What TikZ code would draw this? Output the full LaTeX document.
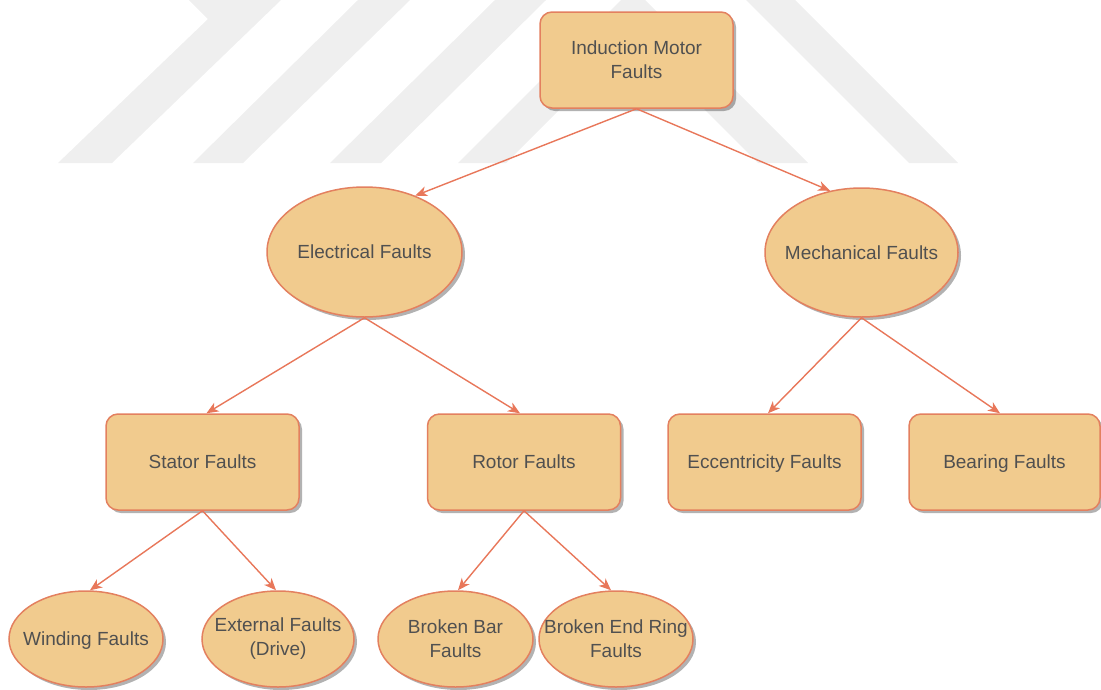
\documentclass[tikz,border=0pt]{standalone}
\usepackage{fontspec}
\setmainfont{Liberation Sans}
\usetikzlibrary{shapes.geometric,shadows,arrows.meta}
\definecolor{boxfill}{HTML}{F1CB8E}
\definecolor{boxline}{HTML}{E3805F}
\definecolor{arrowc}{HTML}{E8775A}
\definecolor{txtc}{HTML}{505050}
\definecolor{wmark}{HTML}{EFEFEF}
\begin{document}
\begin{tikzpicture}[x=1pt,y=-1pt,
  every node/.style={font=\fontsize{19}{24}\selectfont, text=txtc},
  shad/.style={drop shadow={shadow xshift=3pt,shadow yshift=-3pt,fill=black,opacity=0.3}},
  rbox/.style={draw=boxline, fill=boxfill, line width=1.5pt, rounded corners=12pt,
    minimum width=193pt, minimum height=96pt, inner sep=0pt, align=center, shad},
  ebox/.style={draw=boxline, fill=boxfill, line width=1.5pt, ellipse, inner sep=0pt, shad},
  lbl/.style={align=center, text=txtc},
  conn/.style={draw=arrowc, line width=1.4pt, -{Stealth[length=12pt,width=10pt,inset=3.5pt]}},
]
\useasboundingbox (0,0) rectangle (1101,689);
% watermark
\fill[wmark] (189,0) -- (208,19) -- (58,163) -- (112,163) -- (281,0) -- cycle;
\fill[wmark] (358,0) -- (410,0) -- (243,163) -- (193,163) -- cycle;
\fill[wmark] (495,0) -- (546,0) -- (381,163) -- (330,163) -- cycle;
\fill[wmark] (621,0) -- (645,0) -- (808,163) -- (758,163) -- (632,37) -- (506,163) -- (458,163) -- cycle;
\fill[wmark] (746,0) -- (795,0) -- (958,163) -- (909,163) -- cycle;

% nodes
\node[rbox] (root) at (636.5,60) {Induction Motor\\Faults};
\node[ebox, minimum width=195pt, minimum height=130pt,
  label={[lbl]center:Electrical Faults}] (elec) at (364.5,252) {};
\node[ebox, minimum width=193pt, minimum height=129pt,
  label={[lbl]center:Mechanical Faults}] (mech) at (861.5,252.5) {};
\node[rbox] (stator) at (202.5,462) {Stator Faults};
\node[rbox] (rotor) at (524,462) {Rotor Faults};
\node[rbox, text depth=0pt] (ecc) at (764.5,462) {Eccentricity Faults};
\node[rbox, minimum width=191pt, text depth=0pt] (bear) at (1004.5,462) {Bearing Faults};
\node[ebox, minimum width=154pt, minimum height=96pt,
  label={[lbl, text depth=0pt]center:Winding Faults}] (wind) at (86,639) {};
\node[ebox, minimum width=152pt, minimum height=96pt,
  label={[lbl]center:External Faults\\(Drive)}] (ext) at (278,639) {};
\node[ebox, minimum width=155pt, minimum height=96pt,
  label={[lbl]center:Broken Bar\\Faults}] (bbar) at (455.5,639) {};
\node[ebox, minimum width=154pt, minimum height=96pt,
  label={[lbl]center:Broken End Ring\\Faults}] (bring) at (616,639) {};

% connectors
\draw[conn] (root.south) -- (elec.48);
\draw[conn] (root.south) -- (mech.117);
\draw[conn] (elec.south) -- ([xshift=4pt]stator.north);
\draw[conn] (elec.south) -- ([xshift=-4pt]rotor.north);
\draw[conn] (mech.south) -- ([xshift=3.5pt]ecc.north);
\draw[conn] (mech.south) -- ([xshift=-4.5pt]bear.north);
\draw[conn] (stator.south) -- ([xshift=4pt]wind.north);
\draw[conn] (stator.south) -- ([xshift=-2pt]ext.north);
\draw[conn] (rotor.south) -- ([xshift=2.5pt]bbar.north);
\draw[conn] (rotor.south) -- ([xshift=-5pt]bring.north);
\end{tikzpicture}
\end{document}
